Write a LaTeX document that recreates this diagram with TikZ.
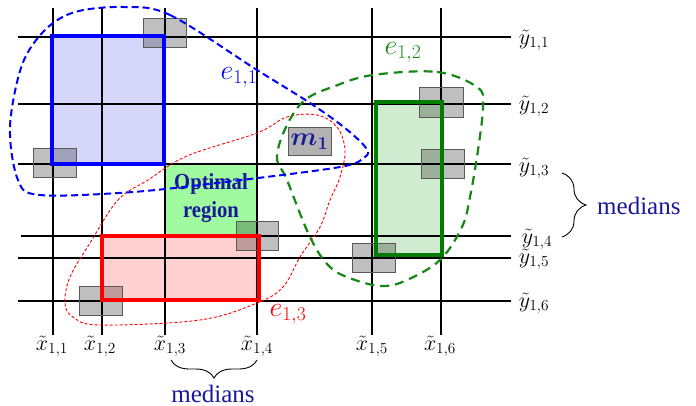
\RequirePackage{fix-cm}
\documentclass[tikz,border=0pt]{standalone}
\usepackage{fontspec}
\setmainfont{Liberation Serif}
\usepackage{bm}
\usepackage{graphicx}
\usetikzlibrary{decorations.pathreplacing}
\definecolor{tblue}{RGB}{25,25,150}
\definecolor{bluefill}{RGB}{214,214,250}
\definecolor{redfill}{RGB}{255,208,208}
\definecolor{greenfill}{RGB}{208,236,208}
\definecolor{optfill}{RGB}{160,250,160}
\definecolor{dgreen}{RGB}{0,125,0}
\definecolor{egreen}{RGB}{20,135,20}
\tikzset{
  gridline/.style={line width=1.8pt, black},
  gbox/.style={fill=black, fill opacity=0.25, draw=black!65, line width=1pt},
  rectb/.style={line width=4pt},
  lab/.style={font=\fontsize{22}{26}\selectfont, inner sep=0pt},
  elab/.style={font=\fontsize{28}{32}\selectfont, inner sep=0pt},
  medtxt/.style={font=\fontsize{25}{30}\selectfont, text=tblue, inner sep=0pt},
  bracestyle/.style={decorate, line width=0.9pt}
}
\begin{document}
\begin{tikzpicture}[x=1pt,y=-1pt]
\useasboundingbox (0,0) rectangle (696,406);
% fills
\fill[bluefill] (52,36) rectangle (164,164);
\fill[redfill] (102,236) rectangle (259,300);
\fill[greenfill] (376,102) rectangle (442,255);
\fill[optfill] (165,164) rectangle (257,236);
% grid
\foreach \x in {53,102,165,257,372,441} \draw[gridline] (\x,8) -- (\x,335);
\foreach \y in {37,104,164,258,301} \draw[gridline] (18,\y) -- (511,\y);
\draw[gridline] (21,236) -- (511,236);
% gray boxes
\draw[gbox] (143,19) rectangle (186,48);
\draw[gbox] (33,149) rectangle (76,178);
\draw[gbox] (419,88) rectangle (463,118);
\draw[gbox] (421,150) rectangle (464,179);
\draw[gbox] (236,222) rectangle (278,250);
\draw[gbox] (79,286) rectangle (122,315);
\draw[gbox] (352,243) rectangle (395,272);
\node[gbox, fill opacity=0.3, minimum width=43pt, minimum height=28pt, inner sep=0pt] (mbox) at (309.5,142) {};
\node[font=\fontsize{26}{30}\selectfont, inner sep=0pt, text=tblue] (m1) at (mbox.center) {$\bm{m_1}$};
% rectangle borders
\draw[rectb, blue] (52,36) rectangle (164,164);
\draw[rectb, red] (102,236) rectangle (259,300);
\draw[rectb, dgreen] (376,102) rectangle (442,255);
% optimal text
\node[font=\fontsize{23}{28}\selectfont\bfseries, text=tblue, align=center, inner sep=0pt] (opt) at (211,198) {\scalebox{0.9}[1]{Optimal}\\\scalebox{0.9}[1]{region}};
% dashed curves
\draw[red, line width=0.9pt, dash pattern=on 3pt off 2pt] plot[smooth cycle, tension=0.6] coordinates {
 (65,303) (70,277) (90,243) (118,200) (148,180) (187,156) (257,133) (287,117) (317,115) (337,127) (345,150) (340,177) (330,200) (320,227) (300,257) (283,287) (257,303) (200,320) (100,325) (73,317)};
\draw[egreen, line width=2.2pt, dash pattern=on 9pt off 6pt] plot[smooth cycle, tension=0.6] coordinates {
 (373,75) (437,72) (477,87) (483,105) (478,150) (470,197) (462,227) (440,260) (407,280) (383,286) (355,280) (330,267) (310,237) (287,180) (277,157) (287,125) (305,100) (335,86)};
\draw[blue, line width=2pt, dash pattern=on 7pt off 4pt] plot[smooth cycle, tension=0.55] coordinates {
 (123,7) (170,15) (257,70) (310,103) (345,128) (366,148) (365,157) (340,167) (233,181) (133,192) (40,195) (18,180) (10,127) (22,65) (45,30) (75,12)};
% e labels
\node[elab, text=blue] (e11) at (239,77) {$e_{1,1}$};
\node[elab, text=egreen] (e12) at (403,52) {$e_{1,2}$};
\node[elab, text=red] (e13) at (288,314) {$e_{1,3}$};
% axis labels
\node[lab] (x1) at (52,346) {$\tilde{x}_{1,1}$};
\node[lab] (x2) at (100,346) {$\tilde{x}_{1,2}$};
\node[lab] (x3) at (170,346) {$\tilde{x}_{1,3}$};
\node[lab] (x4) at (257,346) {$\tilde{x}_{1,4}$};
\node[lab] (x5) at (372,346) {$\tilde{x}_{1,5}$};
\node[lab] (x6) at (440,346) {$\tilde{x}_{1,6}$};
\node[lab] (y1) at (534,40) {$\tilde{y}_{1,1}$};
\node[lab] (y2) at (534,106) {$\tilde{y}_{1,2}$};
\node[lab] (y3) at (534,168) {$\tilde{y}_{1,3}$};
\node[lab] (y4) at (537,239) {$\tilde{y}_{1,4}$};
\node[lab] (y5) at (534,259) {$\tilde{y}_{1,5}$};
\node[lab] (y6) at (534,303) {$\tilde{y}_{1,6}$};
% braces
\coordinate (bb1) at (171,360);
\coordinate (bb2) at (257,360);
\draw[bracestyle, decoration={brace, mirror, amplitude=18pt}] (bb1) -- (bb2);
\node[medtxt, anchor=base] (med1) at (213,402) {medians};
\coordinate (rb1) at (562,173);
\coordinate (rb2) at (562,237);
\draw[bracestyle, decoration={brace, amplitude=24pt}] (rb1) -- (rb2);
\node[medtxt, anchor=west] (med2) at (597,206) {medians};
\end{tikzpicture}
\end{document}
